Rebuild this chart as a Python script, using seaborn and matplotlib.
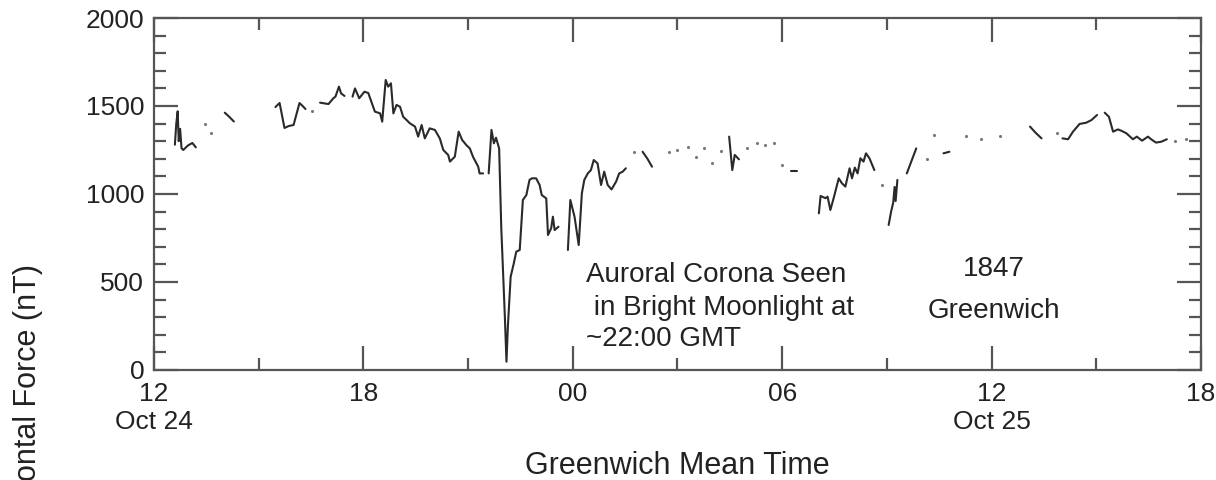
import matplotlib
matplotlib.use("Agg")
import matplotlib.pyplot as plt
import seaborn as sns
import pandas as pd
from matplotlib.ticker import MultipleLocator, FixedLocator

# ---- data: hours after 12:00 GMT Oct 24, horizontal force (nT) ----
seg01_t = [0.60, 0.64, 0.68, 0.71, 0.75, 0.79, 0.84, 0.97, 1.10, 1.20]
seg01_v = [1280, 1400, 1470, 1300, 1370, 1260, 1250, 1275, 1290, 1265]
seg02_t = [2.03, 2.15, 2.29]
seg02_v = [1462, 1440, 1412]
seg03_t = [3.48, 3.60, 3.74, 3.86, 4.00, 4.17, 4.26, 4.34]
seg03_v = [1494, 1517, 1375, 1386, 1392, 1517, 1500, 1483]
seg04_t = [4.76, 5.00, 5.14, 5.20, 5.30, 5.36, 5.46]
seg04_v = [1519, 1511, 1544, 1553, 1610, 1572, 1557]
seg05_t = [5.69, 5.76, 5.88, 6.03, 6.14, 6.33, 6.48, 6.54, 6.64, 6.71, 6.79,
           6.86, 6.95, 7.05, 7.14, 7.24, 7.33, 7.48, 7.57, 7.67, 7.76, 7.90,
           8.05, 8.19, 8.29, 8.43, 8.48, 8.62, 8.73, 8.83, 8.95, 9.05, 9.14,
           9.29, 9.33, 9.43]
seg05_v = [1553, 1600, 1544, 1581, 1574, 1468, 1458, 1411, 1648, 1610, 1629,
           1458, 1506, 1496, 1439, 1420, 1402, 1383, 1326, 1392, 1316, 1373,
           1364, 1316, 1250, 1222, 1184, 1212, 1354, 1307, 1278, 1259, 1212,
           1155, 1117, 1117]
seg06_t = [9.59, 9.67, 9.74, 9.80, 9.89, 9.95, 10.05, 10.10, 10.14, 10.22,
           10.31, 10.38, 10.48, 10.57, 10.67, 10.76, 10.83, 10.95, 11.05,
           11.11, 11.24, 11.29, 11.38, 11.43, 11.48, 11.59]
seg06_v = [1117, 1364, 1288, 1320, 1259, 814, 322, 47, 246, 530,
           606, 672, 682, 966, 994, 1080, 1089, 1089, 1051,
           994, 975, 767, 805, 871, 795, 814]
seg07_t = [11.86, 11.93, 12.05, 12.17, 12.26, 12.33, 12.43, 12.52, 12.60,
           12.71, 12.81, 12.90, 13.00, 13.11, 13.24, 13.33, 13.43, 13.52]
seg07_v = [682, 966, 871, 710, 1004, 1080, 1117, 1136, 1193,
           1174, 1051, 1127, 1051, 1026, 1070, 1117, 1127, 1146]
seg08_t = [14.00, 14.14, 14.27]
seg08_v = [1240, 1200, 1155]
seg09_t = [16.48, 16.57, 16.64, 16.76]
seg09_v = [1326, 1136, 1222, 1197]
seg10_t = [18.24, 18.43]
seg10_v = [1132, 1132]
seg11_t = [19.05, 19.10, 19.24, 19.30, 19.38, 19.48, 19.62, 19.71, 19.81,
           19.93, 20.00, 20.08, 20.16, 20.24, 20.33, 20.40, 20.50, 20.64]
seg11_v = [890, 989, 976, 985, 909, 981, 1089, 1061, 1042,
           1146, 1089, 1150, 1117, 1203, 1184, 1231, 1203, 1136]
seg12_t = [21.05, 21.12, 21.18, 21.22, 21.25, 21.30]
seg12_v = [824, 900, 950, 1040, 960, 1080]
seg13_t = [21.57, 21.84]
seg13_v = [1117, 1259]
seg14_t = [22.62, 22.79]
seg14_v = [1231, 1240]
seg15_t = [25.10, 25.25, 25.43]
seg15_v = [1383, 1350, 1316]
seg16_t = [26.03, 26.19, 26.33, 26.52, 26.71, 26.86, 27.02]
seg16_v = [1316, 1311, 1354, 1398, 1405, 1420, 1449]
seg17_t = [27.24, 27.36, 27.48, 27.62, 27.71, 27.86, 28.05, 28.16, 28.31,
           28.48, 28.57, 28.71, 28.86, 29.02]
seg17_v = [1462, 1439, 1354, 1367, 1360, 1345, 1311, 1326, 1303,
           1326, 1311, 1292, 1297, 1311]

# isolated readings (drawn as dots)
dots_t = [1.46, 1.63, 4.54, 13.76, 14.76, 15.00, 15.31, 15.52, 15.76, 16.00,
          16.24, 17.00, 17.29, 17.50, 17.76, 18.00, 20.86, 22.14, 22.36,
          23.27, 23.70, 24.24, 25.86, 29.24, 29.57]
dots_v = [1396, 1348, 1471, 1236, 1236, 1250, 1269, 1208, 1259, 1174,
          1244, 1259, 1292, 1278, 1292, 1165, 1051, 1197, 1335,
          1331, 1311, 1331, 1348, 1303, 1311]

x_ticks = [0, 6, 12, 18, 24, 30]
x_ticklabels = ["12\nOct 24", "18", "00", "06", "12\nOct 25", "18"]
y_ticks = [0, 500, 1000, 1500, 2000]

segments = [(seg01_t, seg01_v), (seg02_t, seg02_v), (seg03_t, seg03_v),
            (seg04_t, seg04_v), (seg05_t, seg05_v), (seg06_t, seg06_v),
            (seg07_t, seg07_v), (seg08_t, seg08_v), (seg09_t, seg09_v),
            (seg10_t, seg10_v), (seg11_t, seg11_v), (seg12_t, seg12_v),
            (seg13_t, seg13_v), (seg14_t, seg14_v), (seg15_t, seg15_v),
            (seg16_t, seg16_v), (seg17_t, seg17_v)]

rows = []
for i, (ts, vs) in enumerate(segments):
    for t, v in zip(ts, vs):
        rows.append({"t": t, "v": v, "seg": i})
df = pd.DataFrame(rows)
dots = pd.DataFrame({"t": dots_t, "v": dots_v})

sns.set_theme(style="ticks")
plt.rcParams["font.family"] = ["Liberation Sans", "DejaVu Sans"]

TXT = "#222222"
AX = "#555555"

fig = plt.figure(figsize=(12.16, 4.8), dpi=100)
ax = fig.add_axes([0.1266, 0.2292, 0.8611, 0.7333])

sns.lineplot(data=df, x="t", y="v", units="seg", estimator=None, sort=False,
             color="#2a2a2a", linewidth=1.5, ax=ax, legend=False)
sns.scatterplot(data=dots, x="t", y="v", color="#777777", s=5, linewidth=0,
                ax=ax, legend=False)

ax.set_xlim(0, 30)
ax.set_ylim(0, 2000)
ax.xaxis.set_major_locator(FixedLocator(x_ticks))
ax.set_xticklabels(x_ticklabels)
ax.xaxis.set_minor_locator(MultipleLocator(3))
ax.yaxis.set_major_locator(FixedLocator(y_ticks))
ax.set_yticklabels([str(v) for v in y_ticks])
ax.yaxis.set_minor_locator(MultipleLocator(100))

ax.tick_params(which="both", direction="in", top=True, right=True,
               color=AX, width=1.6)
ax.tick_params(which="major", length=17, labelsize=19, labelcolor=TXT, pad=9)
ax.tick_params(which="minor", length=8.5)
ax.tick_params(axis="y", which="major", pad=7)
for sp in ax.spines.values():
    sp.set_color(AX)
    sp.set_linewidth(1.6)

ax.set_xlabel("Greenwich Mean Time", fontsize=22, color=TXT)
ax.xaxis.set_label_coords(0.5, -0.229)
ax.set_ylabel("")
fig.text(0.023, 0.149, "Horizontal Force (nT)", rotation=90, ha="center",
         va="center", fontsize=22, color=TXT)

ax.text(12.38, 500, "Auroral Corona Seen", fontsize=20, color=TXT,
        ha="left", va="baseline")
ax.text(12.38, 312, " in Bright Moonlight at", fontsize=20, color=TXT,
        ha="left", va="baseline")
ax.text(12.38, 136, "~22:00 GMT", fontsize=20, color=TXT,
        ha="left", va="baseline")
ax.text(24.07, 534, "1847", fontsize=20, color=TXT, ha="center", va="baseline")
ax.text(24.07, 295, "Greenwich", fontsize=20, color=TXT, ha="center",
        va="baseline")

fig.savefig("out.png", dpi=100)
